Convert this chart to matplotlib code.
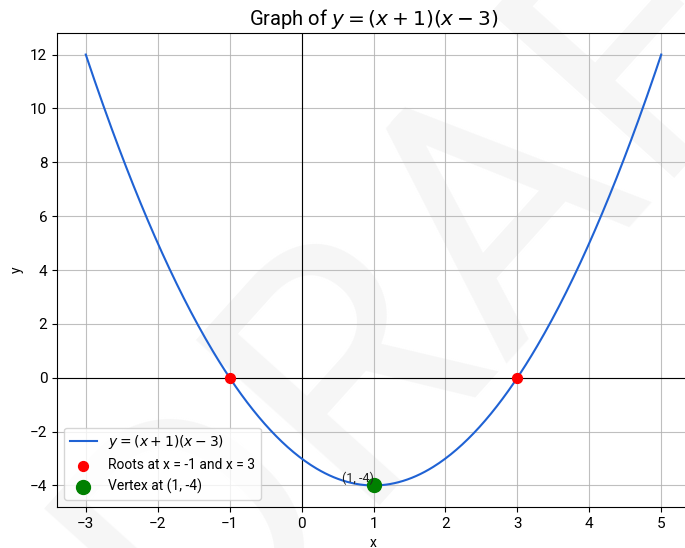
import numpy as np
import matplotlib.pyplot as plt

plt.rcParams['font.family'] = ['Roboto', 'DejaVu Sans']

# curve samples and the marked points
x = np.linspace(-3, 5, 400)
y = (x + 1) * (x - 3)
root_x = [-1, 3]
root_y = [0, 0]
vertex_x = [1]
vertex_y = [-4]

fig = plt.figure(figsize=(6.85, 5.48), dpi=100)
ax = fig.add_axes([57 / 685, 41 / 548, 633 / 685, 474 / 548])

# faint watermark behind the plot
ax.text(0.71, 0.61, 'DRAFT', transform=fig.transFigure, fontsize=250,
        color='#f6f6f6', rotation=48, ha='center', va='center',
        fontweight='normal', zorder=0)

ax.plot(x, y, color='#1f62d4', lw=1.5, label=r'$y = (x + 1)(x - 3)$', zorder=3)
ax.scatter(root_x, root_y, color='red', s=50, zorder=4,
           label='Roots at x = -1 and x = 3')
ax.scatter(vertex_x, vertex_y, color='green', s=100, zorder=4,
           label='Vertex at (1, -4)')
ax.text(vertex_x[0], vertex_y[0], '(1, -4)', ha='right', va='bottom',
        fontsize=9, color='#222222', zorder=5)

ax.axhline(0, color='black', lw=0.8, zorder=2)
ax.axvline(0, color='black', lw=0.8, zorder=2)
ax.grid(True, color='#b0b0b0', lw=0.8, alpha=0.8)
ax.set_axisbelow(True)

ax.set_xlim(-3.4, 5.4)
ax.set_ylim(-4.8, 12.8)
ax.tick_params(labelsize=11)
ax.set_title('Graph of $y = (x + 1)(x - 3)$', fontsize=14.5)
ax.set_xlabel('x', fontsize=10)
ax.set_ylabel('y', fontsize=10)
ax.legend(loc='lower left', fontsize=10)
ax.patch.set_alpha(0)

fig.savefig('out.png', dpi=100)
